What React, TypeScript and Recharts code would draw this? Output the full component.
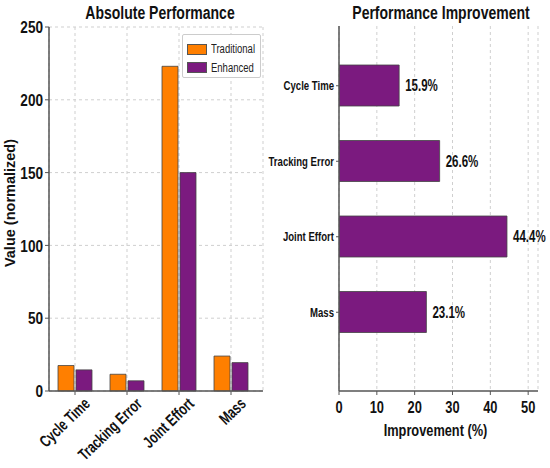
import React from 'react';
import {
  BarChart,
  Bar,
  XAxis,
  YAxis,
  CartesianGrid,
  Legend,
  LabelList,
} from 'recharts';

const categories = ['Cycle Time', 'Tracking Error', 'Joint Effort', 'Mass'];
const traditional = [17.5, 11.5, 223, 24];
const enhanced = [14.5, 7, 150, 19.5];
const improvement = [15.9, 26.6, 44.4, 23.1];

const valueTicks = [0, 50, 100, 150, 200, 250];
const improvementTicks = [0, 10, 20, 30, 40, 50];

const ORANGE = '#ff7f00';
const PURPLE = '#7b1a7f';
const AXIS = '#555';
const GRID = '#cfcfcf';
const INK = '#111';
const FONT = '"Liberation Sans", Arial, sans-serif';
// the reference lettering is narrow, squeeze it horizontally
const SQ = 0.8;

const absData = categories.map((name, i) => ({
  name,
  traditional: traditional[i],
  enhanced: enhanced[i],
}));

const impData = categories.map((name, i) => ({ name, improvement: improvement[i] }));

type NTextProps = {
  x: number;
  y: number;
  size: number;
  anchor?: 'start' | 'middle' | 'end';
  rotate?: number;
  squeeze?: number;
  dy?: string;
  children: React.ReactNode;
};

const NText = ({ x, y, size, anchor = 'middle', rotate = 0, squeeze = SQ, dy, children }: NTextProps) => (
  <text
    transform={`translate(${x},${y}) rotate(${rotate}) scale(${squeeze},1)`}
    textAnchor={anchor}
    dy={dy}
    fontFamily={FONT}
    fontSize={size}
    fontWeight="bold"
    fill={INK}
  >
    {children}
  </text>
);

const RotatedTick = ({ x, y, payload }: any) => (
  <NText x={x + 16} y={y + 8} size={16.5} squeeze={0.72} anchor="end" rotate={-44}>
    {payload.value}
  </NText>
);

const LeftValueTick = ({ x, y, payload }: any) => (
  <NText x={x} y={y} size={17} anchor="end" dy="0.36em">
    {payload.value}
  </NText>
);

const CategoryTick = ({ x, y, payload }: any) => (
  <NText x={x} y={y} size={12.6} squeeze={0.76} anchor="end" dy="0.36em">
    {payload.value}
  </NText>
);

const BottomTick = ({ x, y, payload }: any) => (
  <NText x={x} y={y} size={16.5} squeeze={0.78} anchor="middle" dy="0.72em">
    {payload.value}
  </NText>
);

const LegendBox = () => (
  <div
    style={{
      border: '1px solid #ccc',
      borderRadius: 2,
      background: '#fff',
      padding: '5px 0 3px 4px',
      fontFamily: FONT,
      fontSize: 12.5,
      color: '#222',
      boxSizing: 'border-box',
      height: 44,
    }}
  >
    {[
      { label: 'Traditional', color: ORANGE },
      { label: 'Enhanced', color: PURPLE },
    ].map((it) => (
      <div key={it.label} style={{ display: 'flex', alignItems: 'center', height: 18.5 }}>
        <span
          style={{
            display: 'inline-block',
            flexShrink: 0,
            width: 20,
            height: 11,
            background: it.color,
            border: '1px solid #555',
            marginRight: 4,
            boxSizing: 'border-box',
          }}
        />
        <span style={{ display: 'inline-block', transform: 'scaleX(0.76)', transformOrigin: 'left center', whiteSpace: 'nowrap' }}>
          {it.label}
        </span>
      </div>
    ))}
  </div>
);

const title: React.CSSProperties = {
  position: 'absolute',
  top: 5,
  fontFamily: FONT,
  fontWeight: 'bold',
  fontSize: 17.5,
  lineHeight: 1,
  color: INK,
  transform: `translateX(-50%) scaleX(${SQ})`,
  whiteSpace: 'nowrap',
};

const spine = { stroke: AXIS, strokeWidth: 1.5 };

export default function App() {
  return (
    <div style={{ position: 'absolute', left: 0, top: 0, width: 550, height: 468, background: '#fff' }}>
      <div style={{ ...title, left: 160 }}>Absolute Performance</div>
      <div style={{ ...title, left: 441 }}>Performance Improvement</div>

      <div style={{ position: 'absolute', left: 0, top: 0 }}>
        <BarChart
          width={274}
          height={468}
          data={absData}
          margin={{ top: 27, right: 11, left: 0, bottom: 0 }}
          barSize={16}
          barGap={2}
        >
          <CartesianGrid stroke={GRID} strokeDasharray="3 3" />
          <XAxis
            dataKey="name"
            height={77}
            padding={{ left: 0, right: 6 }}
            tick={<RotatedTick />}
            tickSize={4}
            tickMargin={2}
            axisLine={spine}
            tickLine={{ stroke: AXIS }}
            interval={0}
          />
          <XAxis xAxisId="top" dataKey="name" orientation="top" height={0} tick={false} tickLine={false} axisLine={spine} />
          <YAxis
            width={49}
            domain={[0, 250]}
            ticks={valueTicks}
            tick={<LeftValueTick />}
            tickSize={4}
            tickMargin={2}
            axisLine={spine}
            tickLine={{ stroke: AXIS }}
            label={{
              content: ({ viewBox }: any) => {
                const cx = viewBox.x + 10;
                const cy = viewBox.y + viewBox.height / 2 - 6;
                return (
                  <text
                    transform={`translate(${cx},${cy}) rotate(-90)`}
                    textAnchor="middle"
                    dy="0.36em"
                    fontFamily={FONT}
                    fontSize={14.5}
                    fontWeight="bold"
                    fill={INK}
                  >
                    Value (normalized)
                  </text>
                );
              },
            }}
          />
          <YAxis yAxisId="right" orientation="right" width={0} tick={false} tickLine={false} axisLine={spine} />
          <Legend
            layout="vertical"
            align="center"
            verticalAlign="middle"
            content={<LegendBox />}
            wrapperStyle={{ position: 'absolute', left: 182, top: 34, width: 79 }}
          />
          <Bar dataKey="traditional" name="Traditional" fill={ORANGE} stroke="#444" strokeWidth={0.8} isAnimationActive={false} />
          <Bar dataKey="enhanced" name="Enhanced" fill={PURPLE} stroke="#444" strokeWidth={0.8} isAnimationActive={false} />
        </BarChart>
      </div>

      <div style={{ position: 'absolute', left: 260, top: 0 }}>
        <BarChart
          width={290}
          height={468}
          data={impData}
          layout="vertical"
          margin={{ top: 26, right: 12, left: 0, bottom: 0 }}
          barSize={41}
        >
          <CartesianGrid stroke={GRID} strokeDasharray="3 3" horizontal={false} />
          <XAxis
            type="number"
            domain={[0, 52.6]}
            ticks={improvementTicks}
            allowDataOverflow
            height={77}
            tick={<BottomTick />}
            tickSize={4}
            tickMargin={6}
            axisLine={spine}
            tickLine={{ stroke: AXIS }}
            label={{
              content: ({ viewBox }: any) => (
                <NText x={viewBox.x + viewBox.width / 2 - 3} y={viewBox.y + 45} size={16}>
                  Improvement (%)
                </NText>
              ),
            }}
          />
          <XAxis xAxisId="top" type="number" domain={[0, 52.6]} orientation="top" height={0} tick={false} tickLine={false} axisLine={spine} />
          <YAxis
            type="category"
            dataKey="name"
            width={79}
            padding={{ top: 22, bottom: 41 }}
            tick={<CategoryTick />}
            tickSize={3}
            tickMargin={2}
            axisLine={spine}
            tickLine={{ stroke: AXIS }}
            interval={0}
          />
          <YAxis yAxisId="right" type="category" dataKey="name" orientation="right" width={0} tick={false} tickLine={false} axisLine={spine} />
          <Bar dataKey="improvement" fill={PURPLE} stroke="#444" strokeWidth={0.8} isAnimationActive={false}>
            <LabelList
              dataKey="improvement"
              content={(p: any) => (
                <NText x={p.x + p.width + 6} y={p.y + p.height / 2} size={16} squeeze={0.72} anchor="start" dy="0.36em">
                  {`${p.value}%`}
                </NText>
              )}
            />
          </Bar>
        </BarChart>
      </div>
    </div>
  );
}
